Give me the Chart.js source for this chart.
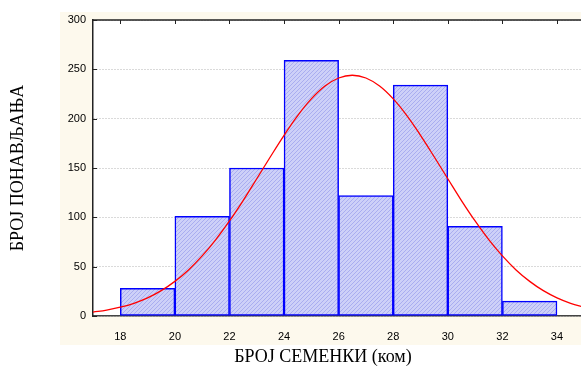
<!DOCTYPE html>
<html lang="sr">
<head>
<meta charset="UTF-8">
<title>Број семенки</title>
<script src="https://cdn.jsdelivr.net/npm/chart.js"></script>
<style>
  html, body { margin: 0; padding: 0; background: #fff; }
  #wrap { width: 581px; height: 367px; }
</style>
</head>
<body>
<div id="wrap"><canvas id="hist"></canvas></div>
<script>
// histogram bins (centre of each 2-seed class) and frequencies
const binCenters = [19, 21, 23, 25, 27, 29, 31, 33];
const counts = [28, 101, 150, 259, 122, 234, 91, 15];

// fitted normal curve
const curveX = [17, 17.5, 18, 18.5, 19, 19.5, 20, 20.5, 21, 21.5, 22, 22.5, 23, 23.5, 24, 24.5, 25, 25.5, 26, 26.5,
                27, 27.5, 28, 28.5, 29, 29.5, 30, 30.5, 31, 31.5, 32, 32.5, 33, 33.5, 34, 34.5, 35];
const curveY = [3.9, 5.9, 8.9, 12.9, 18.4, 25.7, 35.1, 46.7, 60.9, 77.4, 96.3, 117, 139.1, 161.4, 183.1, 203.1, 220, 233, 241.2, 244,
                241.2, 233, 220, 203.1, 183.1, 161.4, 139.1, 117, 96.3, 77.4, 60.9, 46.7, 35.1, 25.7, 18.4, 12.9, 8.9];

const xTicks = [18, 20, 22, 24, 26, 28, 30, 32, 34];
const yTicks = [0, 50, 100, 150, 200, 250, 300];

const xTitle = "БРОЈ СЕМЕНКИ (ком)";
const yTitle = "БРОЈ ПОНАВЉАЊА";

// hatched fill like the original
function hatch() {
  const c = document.createElement("canvas");
  c.width = 4; c.height = 4;
  const g = c.getContext("2d");
  g.fillStyle = "#cdd0f8";
  g.fillRect(0, 0, 4, 4);
  g.fillStyle = "#a9adf0";
  for (let i = 0; i < 4; i++) g.fillRect(i, 3 - i, 1, 1);
  return g.createPattern(c, "repeat");
}

const frame = {
  id: "frame",
  beforeDraw(chart) {
    const { ctx, chartArea: a } = chart;
    ctx.save();
    ctx.fillStyle = "#fdf9ed";
    ctx.fillRect(60, 12, 581 - 60, 345 - 12);
    ctx.fillStyle = "#fff";
    ctx.fillRect(a.left, a.top, a.right - a.left, a.bottom - a.top);
    ctx.restore();
  },
  afterDraw(chart) {
    const { ctx, chartArea: a, scales } = chart;
    ctx.save();
    ctx.strokeStyle = "#222";
    ctx.lineWidth = 1.5;
    ctx.beginPath();
    ctx.moveTo(a.left, a.top); ctx.lineTo(a.right, a.top);
    ctx.stroke();
    ctx.lineWidth = 1;
    ctx.beginPath();
    xTicks.forEach(v => {
      const x = Math.round(scales.x.getPixelForValue(v)) + 0.5;
      ctx.moveTo(x, a.top); ctx.lineTo(x, a.top + 4);
    });
    yTicks.forEach(v => {
      const y = Math.round(scales.y.getPixelForValue(v)) + 0.5;
      ctx.moveTo(a.left, y); ctx.lineTo(a.left + 4, y);
    });
    ctx.stroke();

    ctx.fillStyle = "#000";
    ctx.font = '18px "Times New Roman", "Liberation Serif", serif';
    ctx.textAlign = "center";
    ctx.textBaseline = "middle";
    ctx.fillText(xTitle, 323, 357);
    ctx.translate(18, 168);
    ctx.rotate(-Math.PI / 2);
    ctx.fillText(yTitle, 0, 0);
    ctx.restore();
  }
};

const ctx = document.getElementById("hist").getContext("2d");
new Chart(ctx, {
  data: {
    datasets: [
      {
        type: "line",
        data: curveX.map((x, i) => ({ x, y: curveY[i] })),
        borderColor: "#ff0000",
        borderWidth: 1.3,
        pointRadius: 0,
        tension: 0.4,
        fill: false
      },
      {
        type: "bar",
        data: binCenters.map((x, i) => ({ x, y: counts[i] })),
        backgroundColor: hatch(),
        borderColor: "#0000ff",
        borderWidth: 1.5,
        borderSkipped: false,
        barPercentage: 1,
        categoryPercentage: 1
      }
    ]
  },
  options: {
    responsive: true,
    maintainAspectRatio: false,
    animation: false,
    layout: { padding: { top: 20, right: 0, left: 0, bottom: 0 } },
    plugins: { legend: { display: false }, tooltip: { enabled: false } },
    scales: {
      x: {
        type: "linear",
        offset: false,
        min: 17,
        max: 34.88,
        afterBuildTicks: s => { s.ticks = xTicks.map(v => ({ value: v })); },
        afterFit: s => { s.height = 51; },
        grid: { display: false },
        border: { color: "#444", width: 1.5 },
        ticks: { color: "#000", padding: 6, maxRotation: 0, font: { family: "Arial, 'Liberation Sans', sans-serif", size: 11 } }
      },
      y: {
        min: 0,
        max: 300,
        afterBuildTicks: s => { s.ticks = yTicks.map(v => ({ value: v })); },
        afterFit: s => { s.width = 93; },
        grid: { color: "#b4b4b4", drawTicks: false, lineWidth: 1 },
        border: { color: "#222", width: 1.5, dash: [1, 2] },
        ticks: { color: "#000", padding: 7, font: { family: "Arial, 'Liberation Sans', sans-serif", size: 11 } }
      }
    }
  },
  plugins: [frame]
});
</script>
</body>
</html>
